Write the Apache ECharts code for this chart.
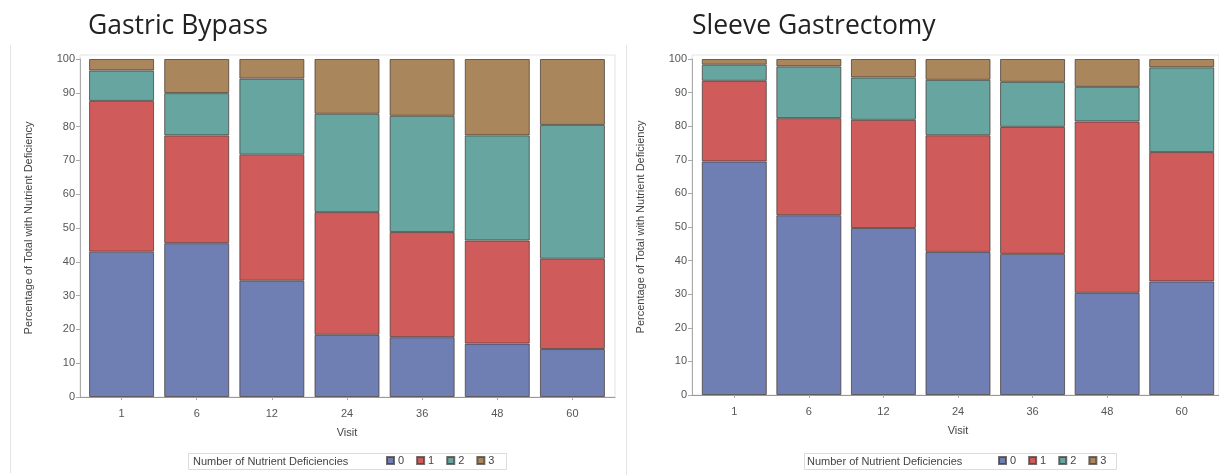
<!DOCTYPE html>
<html>
<head>
<meta charset="utf-8">
<script src="https://cdn.jsdelivr.net/npm/echarts@6/dist/echarts.min.js"></script>
<style>html,body{margin:0;padding:0;background:#fff;}#c{width:1219px;height:475px;}</style>
</head>
<body>
<div id="c"></div>
<script>
const visits = ['1', '6', '12', '24', '36', '48', '60'];
const legendNames = ['0', '1', '2', '3'];
const titleLeft = 'Gastric Bypass';
const titleRight = 'Sleeve Gastrectomy';
const yName = 'Percentage of Total with Nutrient Deficiency';
const xName = 'Visit';
const legendTitle = 'Number of Nutrient Deficiencies';

// Gastric Bypass: percentage with 0,1,2,3 deficiencies
const gb0 = [43.0, 45.5, 34.4, 18.4, 17.7, 15.8, 14.2];
const gb1 = [44.6, 31.9, 37.3, 36.3, 31.1, 30.5, 26.7];
const gb2 = [9.0, 12.5, 22.5, 29.1, 34.4, 31.1, 39.6];
const gb3 = [3.4, 10.1, 5.8, 16.2, 16.8, 22.6, 19.5];
// Sleeve Gastrectomy
const sg0 = [69.5, 53.5, 49.7, 42.6, 42.0, 30.4, 33.8];
const sg1 = [24.0, 28.9, 32.2, 34.7, 37.8, 51.0, 38.5];
const sg2 = [4.8, 15.4, 12.6, 16.5, 13.4, 10.3, 25.2];
const sg3 = [1.7, 2.2, 5.5, 6.2, 6.8, 8.3, 2.5];

const colors = ['#6F7EB3', '#D05B5B', '#66A5A0', '#A9865B'];
const axisFont = 'Liberation Sans';

function barAxisX(gridIndex) {
  return {
    type: 'category', gridIndex: gridIndex, data: visits,
    axisLine: { show: false },
    axisTick: { show: true, alignWithLabel: true, length: 3, lineStyle: { color: '#aaa' } },
    axisLabel: { fontFamily: axisFont, fontSize: 11, color: '#555', margin: 11 },
    name: xName, nameLocation: 'middle', nameGap: 30,
    nameTextStyle: { fontFamily: axisFont, fontSize: 11, color: '#444' },
    splitLine: { show: false }
  };
}
function barAxisY(gridIndex, off) {
  return {
    type: 'value', gridIndex: gridIndex, min: 0, max: 100, interval: 10, offset: off,
    axisLine: { show: true, lineStyle: { color: '#aaa' } },
    axisTick: { show: true, length: 4, lineStyle: { color: '#aaa' } },
    axisLabel: { fontFamily: axisFont, fontSize: 11, color: '#555', margin: 5 },
    splitLine: { show: false },
    name: yName, nameLocation: 'middle', nameGap: 46,
    nameTextStyle: { fontFamily: axisFont, fontSize: 11, color: '#444' }
  };
}
function frameX(gridIndex) {
  return {
    type: 'value', gridIndex: gridIndex, min: 0, max: 1,
    axisLine: { show: true, lineStyle: { color: '#999' } },
    axisTick: { show: false }, axisLabel: { show: false }, splitLine: { show: false }
  };
}
function frameY(gridIndex) {
  return { type: 'value', gridIndex: gridIndex, min: 0, max: 1, show: false };
}
function seriesFor(data, names, xi, stack) {
  return data.map((d, i) => ({
    type: 'bar', name: names[i], stack: stack, data: d,
    xAxisIndex: xi, yAxisIndex: xi,
    barWidth: 65,
    itemStyle: { color: colors[i], borderColor: 'rgba(70,60,55,0.75)', borderWidth: 1 },
    emphasis: { disabled: true }
  }));
}

const chart = echarts.init(document.getElementById('c'));
chart.setOption({
  animation: false,
  backgroundColor: '#fff',
  title: [
    { text: titleLeft, left: 88, top: 13, padding: 0,
      textStyle: { fontFamily: 'Open Sans', fontSize: 26.5, fontWeight: 'normal', color: '#222' } },
    { text: titleRight, left: 692, top: 13, padding: 0,
      textStyle: { fontFamily: 'Open Sans', fontSize: 26.5, fontWeight: 'normal', color: '#222' } }
  ],
  grid: [
    { left: 84, right: 609, top: 59, bottom: 78 },
    { left: 80, right: 604, top: 55, bottom: 78, show: true, borderColor: '#e2e2e2', borderWidth: 1, backgroundColor: 'transparent' },
    { left: 697, right: 0, top: 59, bottom: 80 },
    { left: 692, right: -6, top: 55, bottom: 80, show: true, borderColor: '#e2e2e2', borderWidth: 1, backgroundColor: 'transparent' }
  ],
  xAxis: [barAxisX(0), frameX(1), barAxisX(2), frameX(3)],
  yAxis: [barAxisY(0, 4), frameY(1), barAxisY(2, 5), frameY(3)],
  legend: [
    { data: legendNames, left: 386, top: 455, itemWidth: 7, itemHeight: 7, itemGap: 12, icon: 'rect',
      padding: 0, selectedMode: false,
      textStyle: { fontFamily: axisFont, fontSize: 11, color: '#444', padding: [0, 0, 0, -1] } },
    { data: legendNames, left: 998, top: 455, itemWidth: 7, itemHeight: 7, itemGap: 12, icon: 'rect',
      padding: 0, selectedMode: false,
      textStyle: { fontFamily: axisFont, fontSize: 11, color: '#444', padding: [0, 0, 0, -1] } }
  ],
  graphic: [
    { type: 'line', shape: { x1: 10.5, y1: 45, x2: 10.5, y2: 473 }, style: { stroke: '#e4e4e4', lineWidth: 1 }, z: -1 },
    { type: 'line', shape: { x1: 626.5, y1: 45, x2: 626.5, y2: 475 }, style: { stroke: '#e4e4e4', lineWidth: 1 }, z: -1 },
    { type: 'rect', shape: { x: 188.5, y: 453.5, width: 318, height: 16 }, style: { fill: '#fff', stroke: '#dcdcdc', lineWidth: 1 }, z: -1 },
    { type: 'rect', shape: { x: 804.5, y: 453.5, width: 312, height: 16 }, style: { fill: '#fff', stroke: '#dcdcdc', lineWidth: 1 }, z: -1 },
    { type: 'text', x: 193, y: 462, style: { text: legendTitle, font: '11px "Liberation Sans"', fill: '#444', verticalAlign: 'middle' } },
    { type: 'text', x: 807, y: 462, style: { text: legendTitle, font: '11px "Liberation Sans"', fill: '#444', verticalAlign: 'middle' } }
  ],
  series: [].concat(
    seriesFor([gb0, gb1, gb2, gb3], legendNames, 0, 'gb'),
    seriesFor([sg0, sg1, sg2, sg3], legendNames, 2, 'sg')
  )
});
</script>
</body>
</html>
